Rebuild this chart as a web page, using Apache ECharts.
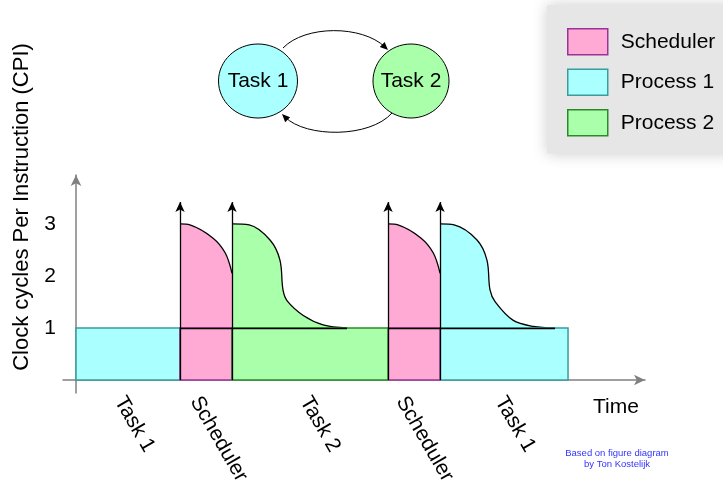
<!DOCTYPE html>
<html>
<head>
<meta charset="utf-8">
<script src="https://cdn.jsdelivr.net/npm/echarts@6/dist/echarts.min.js"></script>
<style>html,body{margin:0;padding:0;background:#fff}#c{width:723px;height:482px}</style>
</head>
<body>
<div id="c"></div>
<script>
// ---- data ----
const phaseLabels = ['Task 1', 'Scheduler', 'Task 2', 'Scheduler', 'Task 1'];
const phaseProcess = ['Process 1', 'Scheduler', 'Process 2', 'Scheduler', 'Process 1'];
const phaseStart = [0, 2, 3, 6, 7];
const phaseEnd = [2, 3, 6, 7, 9.46];
const baseCPI = 1;
const labelPositions = [0.83, 2.29, 4.4, 6.25, 8.15];
const yTicks = [1, 2, 3];
const schedulerCurve1 = [[2, 3], [2.19, 2.98], [2.63, 2.73], [2.87, 2.44], [3, 2.05]];
const schedulerCurve2 = [[6, 3], [6.19, 2.98], [6.63, 2.73], [6.87, 2.44], [7, 2.05]];
const process2Curve = [[3, 3], [3.33, 2.98], [3.73, 2.69], [3.92, 2.31], [3.98, 1.73], [4.06, 1.52], [4.37, 1.24], [4.75, 1.06], [5.21, 1]];
const process1Curve = [[7, 3], [7.27, 2.98], [7.71, 2.69], [7.9, 2.31], [7.96, 1.73], [8.06, 1.5], [8.4, 1.15], [8.79, 1.03], [9.21, 1]];
const arrowTop = 3.42;

const FONT = "'Liberation Sans', Arial, sans-serif";
const colors = {
  'Scheduler': { fill: '#ffaad4', stroke: '#993399' },
  'Process 1': { fill: '#aaffff', stroke: '#3a9c9c' },
  'Process 2': { fill: '#aaffaa', stroke: '#2a8a2a' }
};

const chart = echarts.init(document.getElementById('c'), null, { renderer: 'canvas' });

function rectSeries(name) {
  const data = [];
  phaseProcess.forEach((p, i) => { if (p === name) data.push([phaseStart[i], phaseEnd[i], baseCPI]); });
  return {
    type: 'custom', name, z: 3, silent: true,
    data,
    renderItem(params, api) {
      const s = api.coord([api.value(0), 0]);
      const e = api.coord([api.value(1), api.value(2)]);
      return {
        type: 'rect',
        shape: { x: s[0], y: e[1], width: e[0] - s[0], height: s[1] - e[1] },
        style: { fill: colors[name].fill, stroke: colors[name].stroke, lineWidth: 1.5 }
      };
    }
  };
}
function curveSeries(name, pts) {
  return {
    type: 'line', name, data: pts, smooth: 0.35, symbol: 'none', z: 2, silent: true,
    lineStyle: { color: '#000', width: 1.3 },
    areaStyle: { color: colors[name].fill, opacity: 1 }
  };
}

const curves = [schedulerCurve1, process2Curve, schedulerCurve2, process1Curve];
const baseLines = [
  [schedulerCurve1[0][0], process2Curve[process2Curve.length - 1][0]],
  [schedulerCurve2[0][0], process1Curve[process1Curve.length - 1][0]]
];

function arrowHead(tip, dir, len, half) {
  const l = Math.hypot(dir[0], dir[1]);
  const ux = dir[0] / l, uy = dir[1] / l;
  const bx = tip[0] - ux * len, by = tip[1] - uy * len;
  return [[tip[0], tip[1]], [bx - uy * half, by + ux * half], [bx + uy * half, by - ux * half]];
}

const option = {
  animation: false,
  backgroundColor: '#fff',
  textStyle: { fontFamily: FONT },
  grid: { left: 63, right: 78, top: 175, bottom: 89, containLabel: false, outerBoundsMode: 'none' },
  legend: {
    orient: 'vertical', left: 547, top: 5,
    padding: [23, 30, 17, 20],
    backgroundColor: '#e6e6e6',
    shadowBlur: 14, shadowColor: 'rgba(0,0,0,0.2)',
    itemWidth: 40, itemHeight: 26, itemGap: 13,
    icon: 'rect', selectedMode: false,
    textStyle: { fontSize: 21, color: '#000', fontFamily: FONT, padding: [0, 0, 0, 8] },
    data: ['Scheduler', 'Process 1', 'Process 2'].map(n => ({
      name: n, itemStyle: { color: colors[n].fill, borderColor: colors[n].stroke, borderWidth: 1.5 }
    }))
  },
  xAxis: {
    type: 'value', min: -0.25, max: 10.94,
    name: 'Time', nameLocation: 'end', nameGap: -52,
    nameTextStyle: { fontSize: 21, color: '#000', fontFamily: FONT, verticalAlign: 'top', padding: [17, 0, 0, 0] },
    axisLine: { onZero: true, symbol: ['none', 'arrow'], symbolSize: [8, 11], lineStyle: { color: '#808080', width: 1.5 } },
    axisTick: { show: false },
    splitLine: { show: false },
    axisLabel: {
      customValues: labelPositions,
      formatter: v => phaseLabels[labelPositions.indexOf(v)],
      rotate: -60, margin: 5, fontSize: 21, color: '#000', fontFamily: FONT
    }
  },
  yAxis: {
    type: 'value', min: -0.25, max: 3.94,
    name: 'Clock cycles Per Instruction (CPI)', nameLocation: 'middle', nameGap: 30,
    nameTextStyle: { fontSize: 22, color: '#000', fontFamily: FONT, padding: [0, 0, 0, 154] },
    axisLine: { onZero: true, symbol: ['none', 'arrow'], symbolSize: [8, 11], lineStyle: { color: '#808080', width: 1.5 } },
    axisTick: { show: false },
    splitLine: { show: false },
    axisLabel: { customValues: yTicks, margin: 7, fontSize: 21, color: '#000', fontFamily: FONT }
  },
  series: [
    ...curves.map((c, i) => curveSeries(i % 2 === 0 ? 'Scheduler' : (i === 1 ? 'Process 2' : 'Process 1'), c)),
    rectSeries('Process 1'), rectSeries('Scheduler'), rectSeries('Process 2'),
    {
      type: 'line', data: [], z: 5, silent: true,
      markLine: {
        silent: true, symbol: ['none', 'none'],
        lineStyle: { color: '#000', width: 1.3, type: 'solid' }, label: { show: false },
        data: baseLines.map(b => [{ coord: [b[0], baseCPI] }, { coord: [b[1], baseCPI] }])
      }
    },
    {
      type: 'line', data: [], z: 6, silent: true,
      markLine: {
        silent: true, symbol: ['none', 'arrow'], symbolSize: [7, 10],
        lineStyle: { color: '#000', width: 1.3, type: 'solid' }, label: { show: false },
        data: phaseStart.slice(1).map(x => [{ coord: [x, 0] }, { coord: [x, arrowTop] }])
      }
    }
  ],
  graphic: [
    { type: 'ellipse', shape: { cx: 258, cy: 81, rx: 39.5, ry: 37 }, style: { fill: '#aaffff', stroke: '#000', lineWidth: 1 } },
    { type: 'text', x: 258, y: 81, style: { text: 'Task 1', fontSize: 21, fontFamily: FONT, fill: '#000', align: 'center', verticalAlign: 'middle' } },
    { type: 'ellipse', shape: { cx: 411, cy: 81, rx: 38, ry: 37 }, style: { fill: '#aaffaa', stroke: '#000', lineWidth: 1 } },
    { type: 'text', x: 411, y: 81, style: { text: 'Task 2', fontSize: 21, fontFamily: FONT, fill: '#000', align: 'center', verticalAlign: 'middle' } },
    { type: 'bezierCurve', shape: { x1: 283, y1: 48, cpx1: 305, cpy1: 25, cpx2: 362, cpy2: 25, x2: 385, y2: 47 }, style: { stroke: '#000', lineWidth: 1, fill: null } },
    { type: 'polygon', shape: { points: arrowHead([388, 50], [23, 22], 8, 3.5) }, style: { fill: '#000' } },
    { type: 'bezierCurve', shape: { x1: 392, y1: 113, cpx1: 370, cpy1: 138, cpx2: 306, cpy2: 138, x2: 285, y2: 117 }, style: { stroke: '#000', lineWidth: 1, fill: null } },
    { type: 'polygon', shape: { points: arrowHead([282, 114], [-21, -21], 8, 3.5) }, style: { fill: '#000' } },
    { type: 'text', x: 617, y: 453, style: { text: 'Based on figure diagram', fontSize: 9.5, fontFamily: FONT, fill: '#3333ff', align: 'center', verticalAlign: 'middle' } },
    { type: 'text', x: 617, y: 464, style: { text: 'by Ton Kostelijk', fontSize: 9.5, fontFamily: FONT, fill: '#3333ff', align: 'center', verticalAlign: 'middle' } }
  ]
};
chart.setOption(option);
</script>
</body>
</html>
